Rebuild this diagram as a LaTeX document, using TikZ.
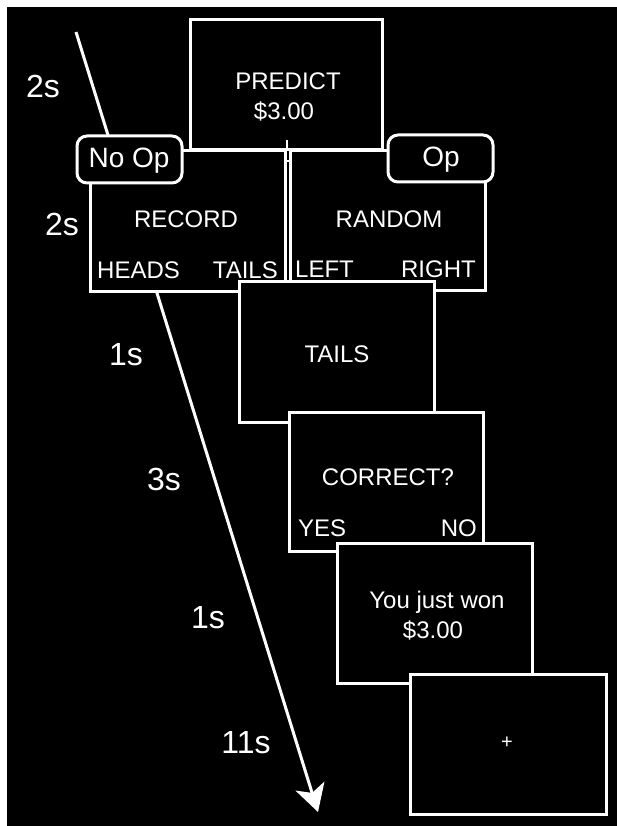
\documentclass[tikz,border=0pt]{standalone}
\usepackage{fontspec}
\setmainfont{Liberation Sans}
\usetikzlibrary{arrows.meta}
\begin{document}
\begin{tikzpicture}[x=1pt,y=-1pt,
  screen/.style={draw=white, fill=black, line width=3pt, minimum width=195pt,
    minimum height=140pt, inner sep=0pt, outer sep=0pt, anchor=north west},
  tagbox/.style={draw=white, fill=black, line width=3pt, rounded corners=10pt,
    minimum width=105pt, minimum height=47pt, inner sep=0pt, outer sep=0pt, anchor=north west},
  txt/.style={text=white, font=\fontsize{24}{28}\selectfont, inner sep=0pt, anchor=base},
  tagtxt/.style={txt, font=\fontsize{28}{32}\selectfont},
  timetxt/.style={txt, font=\fontsize{32}{36}\selectfont},
  timeline/.style={draw=white, line width=3pt, -{Stealth[length=27pt, width=30pt, inset=7pt]}},
  detail/.style={draw=white, line width=2.5pt}
]
% page and background
\useasboundingbox (0,0) rectangle (616,826);
\fill[white] (-5,-5) rectangle (630,840);
\fill[black] (7,7) rectangle (630,840);

% time arrow (behind the screens)
\coordinate (astart) at (76,32);
\coordinate (aend) at (318,812);
\draw[timeline] (astart) -- (aend);

% screens
\node[screen, minimum width=192pt, minimum height=130pt] (predict) at (190,20) {};
\node[screen, minimum height=140pt] (record) at (90,151) {};
\node[screen, minimum height=139pt] (random) at (290,151) {};
\coordinate (stubtop) at (287,140);
\coordinate (stubbot) at (287,151);
\draw[detail] (stubtop) -- (stubbot);
\coordinate (barl) at (285,161);
\coordinate (barr) at (290,161);
\draw[detail, line width=2pt] (barl) -- (barr);
\node[tagbox] (noop) at (77,136) {};
\node[tagbox] (op) at (388,135) {};
\node[screen, minimum height=141pt] (tails) at (239,281) {};
\node[screen, minimum width=194pt, minimum height=139pt] (correct) at (289,412) {};
\node[screen] (won) at (337,543) {};
\node[screen, minimum width=196pt] (fix) at (410,674) {};

% texts
\node[txt] (tpredict) at (288,90) {PREDICT};
\node[txt] (tprice) at (284,120) {\$3.00};
\node[tagtxt] (tnoop) at (129,168) {No Op};
\node[tagtxt] (top) at (441,167) {Op};
\node[txt] (trecord) at (186,227) {RECORD};
\node[txt, anchor=base west] (theads) at (97,278) {HEADS};
\node[txt, anchor=base east] (ttails) at (278,278) {TAILS};
\node[txt] (trandom) at (389,227) {RANDOM};
\node[txt, anchor=base west] (tleft) at (295,277) {LEFT};
\node[txt, anchor=base east] (tright) at (476,277) {RIGHT};
\node[txt] (toutcome) at (337,362) {TAILS};
\node[txt] (tcorrect) at (388,485) {CORRECT?};
\node[txt, anchor=base west] (tyes) at (298,536) {YES};
\node[txt, anchor=base east] (tno) at (477,536) {NO};
\node[txt] (twon) at (437,608) {You just won};
\node[txt] (twonprice) at (433,638) {\$3.00};
\node[txt, anchor=center, font=\fontsize{20}{22}\selectfont] (tplus) at (507,743) {+};

% durations
\node[timetxt] (d1) at (43,98) {2s};
\node[timetxt] (d2) at (62,235) {2s};
\node[timetxt] (d3) at (126,365) {1s};
\node[timetxt] (d4) at (164,490) {3s};
\node[timetxt] (d5) at (208,628) {1s};
\node[timetxt] (d6) at (246,753) {11s};
\end{tikzpicture}
\end{document}
